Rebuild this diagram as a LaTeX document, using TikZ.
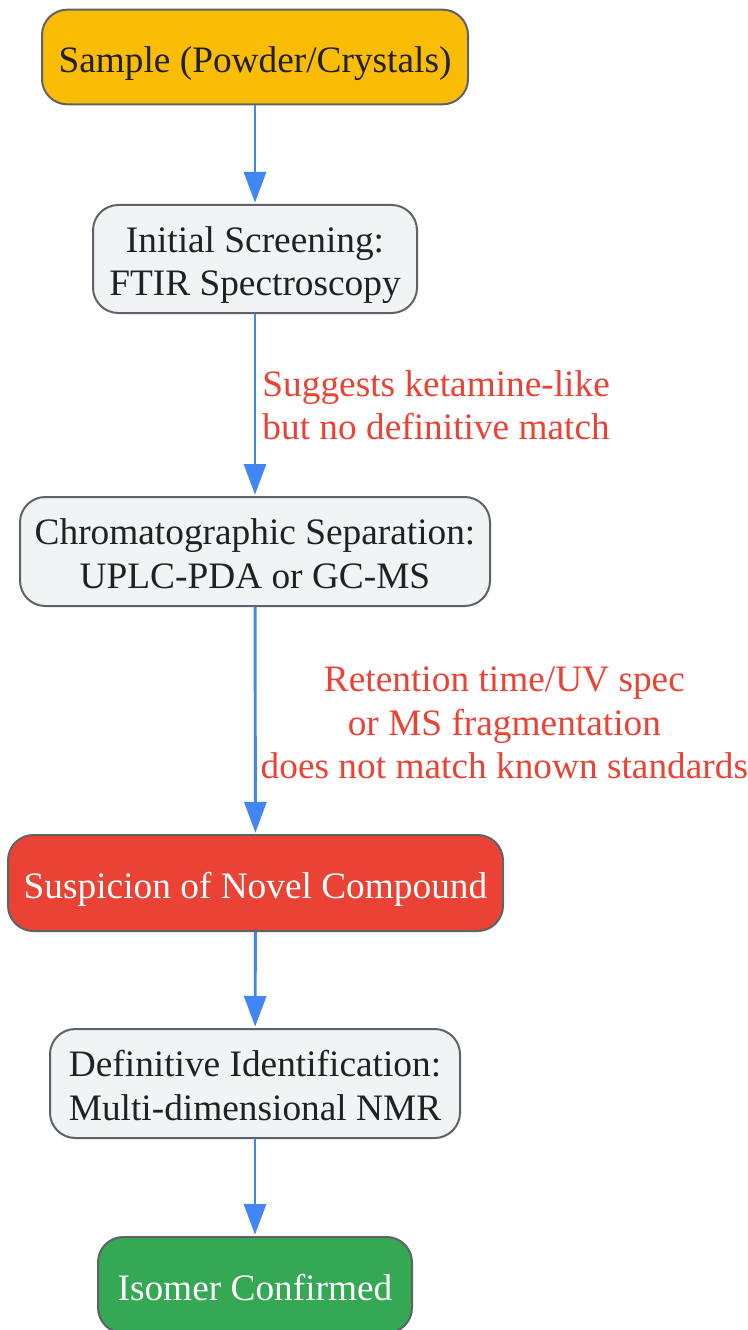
\documentclass[tikz,border=0pt]{standalone}
\usepackage{fontspec}
\setmainfont{Liberation Serif}
\usetikzlibrary{arrows.meta}
\definecolor{gborder}{HTML}{5F6368}
\definecolor{gtext}{HTML}{202124}
\definecolor{gblue}{HTML}{4285F4}
\definecolor{gred}{HTML}{EA4335}
\definecolor{gyellow}{HTML}{FBBC05}
\definecolor{ggreen}{HTML}{34A853}
\definecolor{ggrey}{HTML}{F1F3F4}
\begin{document}
\begin{tikzpicture}
        [x=0.75pt,y=-0.75pt,
        flow/.style={-{Triangle[length=23pt,width=16.5pt]},gblue,line width=2.2pt,shorten >=1pt},
        base box/.style={rounded corners=19pt,draw=gborder,line width=1.5pt,align=center,
          font=\fontsize{28}{32.6}\selectfont,text=gtext,inner sep=0pt,
          text height=27pt,text depth=3.6pt},
        step box/.style={base box,fill=ggrey,text height=62.8pt,text depth=8pt},
        lbl/.style={align=center,text=gred,font=\fontsize{28}{32.6}\selectfont,anchor=west,inner sep=0pt}]
    \useasboundingbox (0,0) rectangle (748,1330);

    \node[base box,fill=gyellow,minimum width=319.5pt,minimum height=71pt] (sample) at (255,57) {Sample (Powder/Crystals)};
    \node[step box,minimum width=243pt,minimum height=81pt] (ftir) at (255,259) {Initial Screening:\\FTIR Spectroscopy};
    \node[step box,minimum width=352.5pt,minimum height=81.75pt] (chrom) at (255,551.5) {Chromatographic Separation:\\UPLC-PDA or GC-MS};
    \node[base box,fill=gred,text=white,minimum width=371.25pt,minimum height=72pt] (novel) at (255.5,883) {Suspicion of Novel Compound};
    \node[step box,minimum width=307.5pt,minimum height=81.75pt] (nmr) at (255,1083.5) {Definitive Identification:\\Multi-dimensional NMR};
    \node[base box,fill=ggreen,text=white,minimum width=235.5pt,minimum height=72pt] (isomer) at (255,1285) {Isomer Confirmed};

    \draw[flow] (sample) -- (ftir);
    \draw[flow] (ftir) -- node[lbl,xshift=4.5pt] {Suggests ketamine-like\\but no definitive match} (chrom);
    \draw[flow] (chrom) -- node[lbl,xshift=3pt,yshift=-2pt] {Retention time/UV spec\\or MS fragmentation\\does not match known standards} (novel);
    \draw[flow] (novel) -- (nmr);
    \draw[flow] (nmr) -- (isomer);
\end{tikzpicture}
\end{document}
